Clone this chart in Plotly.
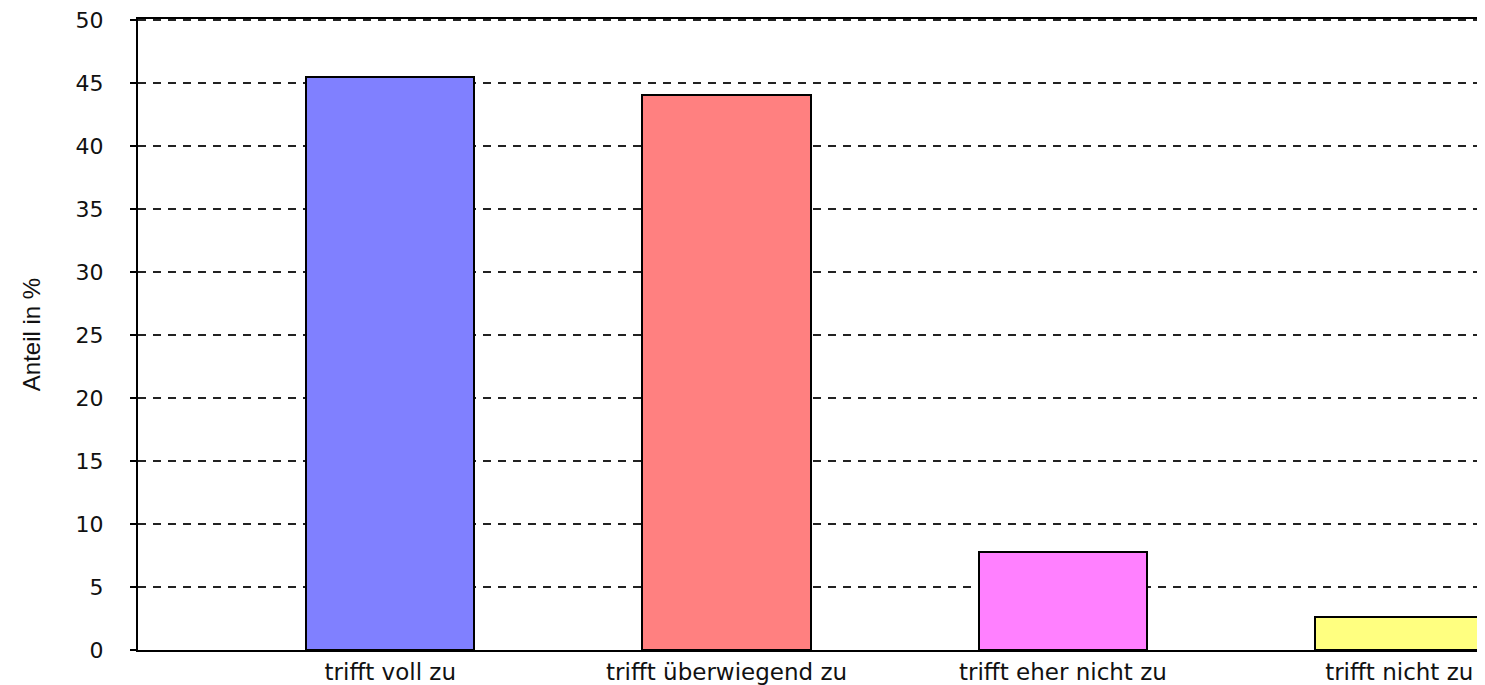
import plotly.graph_objects as go

categories = ["trifft voll zu", "trifft überwiegend zu", "trifft eher nicht zu", "trifft nicht zu"]
values = [45.5, 44.1, 7.8, 2.6]
bar_colors = ["#8080FF", "#FF8080", "#FF80FF", "#FFFF80"]
y_ticks = [0, 5, 10, 15, 20, 25, 30, 35, 40, 45, 50]

fig = go.Figure()
fig.add_trace(go.Bar(
    x=list(range(len(categories))),
    y=values,
    width=0.5,
    marker=dict(color=bar_colors, line=dict(color="#000000", width=2)),
    hoverinfo="x+y",
))

# the page body adds an 8px offset; size the figure to compensate
fig.update_layout(
    width=1477, height=677,
    margin=dict(l=130, r=0, t=11, b=35),
    paper_bgcolor="white", plot_bgcolor="white",
    showlegend=False,
    bargap=0,
)
fig.update_xaxes(
    range=[-0.75, 3.255],
    tickmode="array",
    tickvals=list(range(len(categories))),
    ticktext=categories,
    showgrid=False, zeroline=False,
    showline=True, linecolor="#000000", linewidth=2, mirror=True,
    ticks="", ticklabelstandoff=0, ticklabeloverflow="allow",
    automargin=False,
    tickfont=dict(family="DejaVu Sans", size=23, color="#111111"),
)
fig.update_yaxes(
    range=[0, 50.1],
    tickmode="array",
    tickvals=y_ticks,
    ticktext=[str(v) for v in y_ticks],
    showgrid=True, gridcolor="#222222", gridwidth=2, griddash="8px,7px",
    zeroline=False,
    showline=True, linecolor="#000000", linewidth=2,
    ticks="outside", ticklen=6, tickwidth=2, tickcolor="#000000",
    ticklabelstandoff=22, ticklabeloverflow="allow",
    automargin=False,
    tickfont=dict(family="DejaVu Sans", size=22, color="#111111"),
    title=dict(text="Anteil in %", standoff=28,
               font=dict(family="Liberation Sans Narrow, Liberation Sans", size=24, color="#111111")),
)

fig.write_html("out.html")
